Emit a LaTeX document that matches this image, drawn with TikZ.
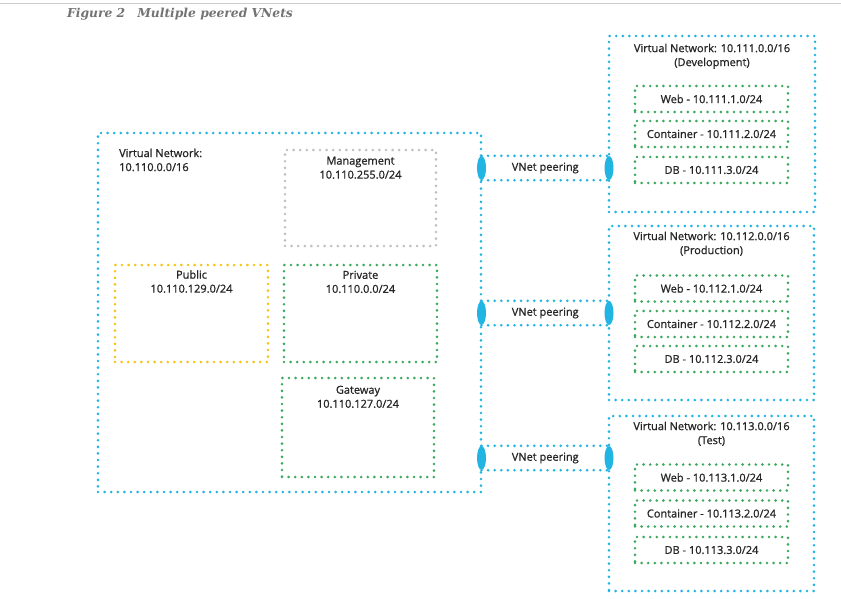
\documentclass[tikz,border=0pt]{standalone}
\usepackage{fontspec}
\setmainfont{Open Sans}[FakeBold=1]
\newfontfamily\captionfont{DejaVu Serif}
\usetikzlibrary{shapes.geometric, calc}
\definecolor{vnetblue}{HTML}{22B4E3}
\definecolor{subgreen}{HTML}{3CA95E}
\definecolor{subyellow}{HTML}{F3C412}
\definecolor{subgray}{HTML}{BFBFBF}
\tikzset{
    dots/.style={line width=2.9pt, line cap=round, dash pattern=on 0pt off 6.6pt}
}
\tikzset{
    every node/.style={inner sep=0pt, text=black!85, font=\fontsize{11}{14}\selectfont},
    vnet/.style={rectangle, draw=vnetblue, dots},
    subnet/.style={rectangle, draw=subgreen, dots, minimum width=153pt},
    tier/.style={subnet, minimum height=26pt},
    caption/.style={anchor=north, align=center},
    peer/.style={ellipse, fill=vnetblue, minimum width=9pt, minimum height=24pt}
}

\begin{document}
\begin{tikzpicture}
	\useasboundingbox (0pt,0pt) rectangle (841pt,-598pt);
	\draw [color=black!20, line width=1pt] (0pt,-3pt) -- (841pt,-3pt);
	\node (title) [anchor=base west, text=black!55,
		font=\captionfont\itshape\bfseries\fontsize{12.3}{14}\selectfont]
		at (67pt,-17.5pt) {Figure 2\hspace{12pt}Multiple peered VNets};

	% hub network
	\node (hub) [vnet, minimum width=383pt, minimum height=359pt] at (289.5pt,-312.5pt) {};
	\node (hub text) [anchor=north west, align=left] at (119pt,-148.5pt) {Virtual Network:\\10.110.0.0/16};
	\node (mgmt) [rectangle, draw=subgray, dots, minimum width=151pt, minimum height=96pt] at (360.5pt,-198pt) {};
	\node (mgmt text) [caption] at ([yshift=-8pt]mgmt.north) {Management\\10.110.255.0/24};
	\node (public) [rectangle, draw=subyellow, dots, minimum width=153pt, minimum height=97pt] at (191.5pt,-313.5pt) {};
	\node (public text) [caption] at ([yshift=-6.5pt]public.north) {Public\\10.110.129.0/24};
	\node (private) [subnet, minimum height=97pt] at (360.5pt,-313.5pt) {};
	\node (private text) [caption] at ([yshift=-7pt]private.north) {Private\\10.110.0.0/24};
	\node (gateway) [subnet, minimum width=152pt, minimum height=99pt] at (358pt,-427.5pt) {};
	\node (gateway text) [caption] at ([yshift=-9pt]gateway.north) {Gateway\\10.110.127.0/24};

	% spoke networks
	\node (dev) [vnet, minimum width=206pt, minimum height=176pt] at (712pt,-124pt) {};
	\node (dev text) [caption] at ([yshift=-9pt]dev.north) {Virtual Network: 10.111.0.0/16\\(Development)};
	\node (dev web) [tier] at (711.5pt,-99pt) {Web - 10.111.1.0/24};
	\node (dev container) [tier] at (711.5pt,-134pt) {Container - 10.111.2.0/24};
	\node (dev db) [tier] at (711.5pt,-170pt) {DB - 10.111.3.0/24};

	\node (prod) [vnet, minimum width=205pt, minimum height=174pt] at (711.5pt,-313pt) {};
	\node (prod text) [caption] at ([yshift=-7pt]prod.north) {Virtual Network: 10.112.0.0/16\\(Production)};
	\node (prod web) [tier] at (711.5pt,-288.5pt) {Web - 10.112.1.0/24};
	\node (prod container) [tier] at (711.5pt,-324pt) {Container - 10.112.2.0/24};
	\node (prod db) [tier] at (711.5pt,-359pt) {DB - 10.112.3.0/24};

	\node (test) [vnet, minimum width=205pt, minimum height=175pt] at (711.5pt,-503.5pt) {};
	\node (test text) [caption] at ([yshift=-7pt]test.north) {Virtual Network: 10.113.0.0/16\\(Test)};
	\node (test web) [tier] at (711.5pt,-477.5pt) {Web - 10.113.1.0/24};
	\node (test container) [tier] at (711.5pt,-513.5pt) {Container - 10.113.2.0/24};
	\node (test db) [tier] at (711.5pt,-550pt) {DB - 10.113.3.0/24};

	% peerings
	\node (p1a) [peer] at (481.5pt,-168pt) {};
	\node (p1b) [peer] at (609pt,-168pt) {};
	\node (p2a) [peer] at (481.5pt,-313pt) {};
	\node (p2b) [peer] at (609pt,-313pt) {};
	\node (p3a) [peer] at (481.5pt,-458pt) {};
	\node (p3b) [peer] at (609pt,-458pt) {};

	\draw [draw=vnetblue, dots] (p1a.north) -- (p1b.north) (p1a.south) -- (p1b.south);
	\draw [draw=vnetblue, dots] (p2a.north) -- (p2b.north) (p2a.south) -- (p2b.south);
	\draw [draw=vnetblue, dots] (p3a.north) -- (p3b.north) (p3a.south) -- (p3b.south);
	\node (p1 text) at ($(p1a)!0.5!(p1b)$) {VNet peering};
	\node (p2 text) at ($(p2a)!0.5!(p2b)$) {VNet peering};
	\node (p3 text) at ($(p3a)!0.5!(p3b)$) {VNet peering};
\end{tikzpicture}
\end{document}
